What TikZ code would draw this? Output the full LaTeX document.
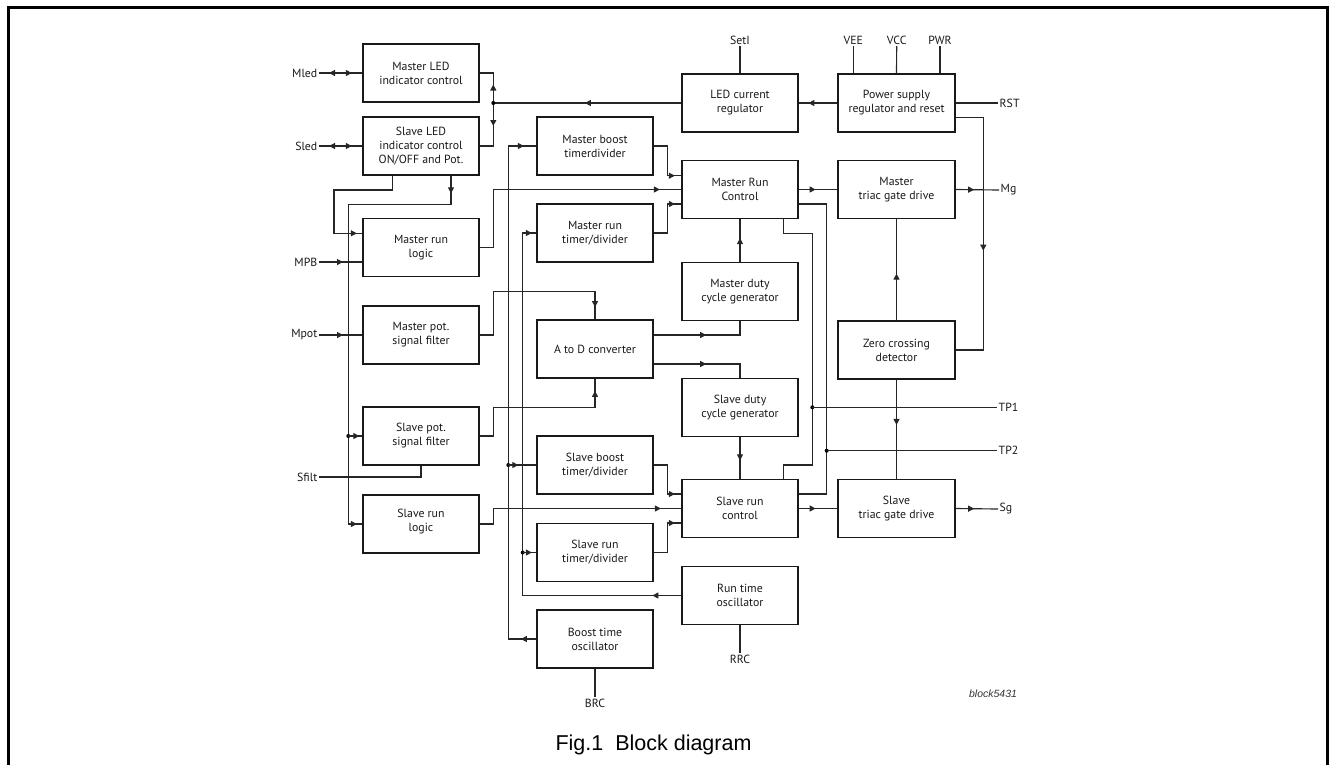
\documentclass[tikz,border=0pt]{standalone}
\usepackage{fontspec}
\setmainfont{PT Sans}
\newfontfamily\capfont{Liberation Sans}
\usetikzlibrary{arrows.meta,decorations.markings,calc}
\begin{document}
\begin{tikzpicture}[x=1pt,y=-1pt,
  blk/.style={draw=black!90, line width=1.8pt, minimum width=116.5pt, minimum height=58pt,
    inner sep=0pt, align=center, font=\fontsize{11.8}{14}\selectfont, text=black!90},
  lbl/.style={font=\fontsize{11.8}{13}\selectfont, inner sep=1.5pt, text=black!90},
  ln/.style={line width=1.15pt, draw=black!85},
  tip/.style={postaction={decorate,decoration={markings,mark=at position #1 with {\arrow{Triangle[length=6pt,width=6pt]}}}}},
  rtip/.style={postaction={decorate,decoration={markings,mark=at position #1 with {\arrowreversed{Triangle[length=6pt,width=6pt]}}}}},
  dot/.style={fill=black, circle, inner sep=0pt, minimum size=4pt}]
\useasboundingbox (0,0) rectangle (1329,764);
% frame
\draw[line width=3pt] (8.3,770) -- (8.3,7.3) -- (1327.8,7.3) -- (1327.8,770);

% blocks
\node[blk] (mled) at (421,73) {Master LED\\indicator control};
\node[blk] (sled) at (421,146) {Slave LED\\indicator control\\ON/OFF and Pot.};
\node[blk] (mrl) at (421,247.5) {Master run\\logic};
\node[blk] (mpf) at (421,335) {Master pot.\\signal filter};
\node[blk] (spf) at (421,436) {Slave pot.\\signal filter};
\node[blk] (srl) at (421,524) {Slave run\\logic\\[-7pt]\mbox{}};
\node[blk] (mbt) at (595,146) {Master boost\\timerdivider};
\node[blk] (mrt) at (595,233) {Master run\\timer/divider};
\node[blk] (adc) at (595,349) {A to D converter};
\node[blk] (sbt) at (595,465) {Slave boost\\timer/divider};
\node[blk] (srt) at (595,552.5) {Slave run\\timer/divider};
\node[blk] (bto) at (595,639) {Boost time\\oscillator};
\node[blk] (lcr) at (740,103) {LED current\\regulator};
\node[blk] (mrc) at (740,189.5) {Master Run\\Control};
\node[blk] (mdc) at (740,291.5) {Master duty\\cycle generator};
\node[blk] (sdc) at (740,407.5) {Slave duty\\cycle generator};
\node[blk] (src) at (740,508.5) {Slave run\\control};
\node[blk] (rto) at (740,595.5) {Run time\\oscillator};
\node[blk] (psr) at (896.5,103) {Power supply\\regulator and reset};
\node[blk] (mtg) at (896.5,189.5) {Master\\triac gate drive};
\node[blk] (zcd) at (896.5,350) {Zero crossing\\detector};
\node[blk] (stg) at (896.5,508.5) {Slave\\triac gate drive};

% pin labels
\node[lbl, anchor=east] (Lmled) at (319,73) {Mled};
\node[lbl, anchor=east] (Lsled) at (319,146) {Sled};
\node[lbl, anchor=east] (Lmpb) at (319,262) {MPB};
\node[lbl, anchor=east] (Lmpot) at (319,335) {Mpot};
\node[lbl, anchor=east] (Lsfilt) at (319,477) {Sfilt};
\node[lbl, anchor=south] (Lsetl) at (740,46) {SetI};
\node[lbl, anchor=south] (Lvee) at (853.3,46) {VEE};
\node[lbl, anchor=south] (Lvcc) at (896.7,46) {VCC};
\node[lbl, anchor=south] (Lpwr) at (940,46) {PWR};
\node[lbl, anchor=west] (Lrst) at (998,103) {RST};
\node[lbl, anchor=west] (Lmg) at (999,190) {Mg};
\node[lbl, anchor=west] (Ltp1) at (997,407.3) {TP1};
\node[lbl, anchor=west] (Ltp2) at (997,450.7) {TP2};
\node[lbl, anchor=west] (Lsg) at (998,509) {Sg};
\node[lbl, anchor=north] (Lrrc) at (740,653) {RRC};
\node[lbl, anchor=north] (Lbrc) at (595,697) {BRC};

% LED section
\draw[ln, rtip=10pt, tip=-10pt] (Lmled.east) -- (mled.west);
\draw[ln, rtip=10pt, tip=-10pt] (Lsled.east) -- (sled.west);
\coordinate (jled) at (493.3,103);
\draw[ln, tip=96pt] (lcr.west) -- (jled);
\draw[ln, tip=18.5pt] (jled) -- (jled |- mled.east) -- (mled.east);
\draw[ln, tip=23pt] (jled) -- (jled |- sled.east) -- (sled.east);
\node[dot] (djled) at (jled) {};

% power / top
\draw[ln, tip=29pt] (psr.west) -- (lcr.east);
\draw[ln] (Lsetl.south) -- (lcr.north);
\draw[ln] (Lvee.south) -- (Lvee.south |- psr.north);
\draw[ln] (Lvcc.south) -- (psr.north);
\draw[ln] (Lpwr.south) -- (Lpwr.south |- psr.north);
\draw[ln] (psr.east) -- (Lrst.west);
\draw[ln, tip=161pt] (psr.east |- 0,117.3) -- (983.3,117.3) |- (zcd.east);
\draw[ln, tip=46.5pt] (zcd.north) -- (mtg.south);
\draw[ln, tip=45pt] (zcd.south) -- (stg.north);
\draw[ln, tip=16.5pt] (mrc.east) -- (mtg.west);
\draw[ln, tip=18.5pt] (mtg.east) -- (Lmg.west);
\draw[ln, tip=16.5pt] (src.east) -- (stg.west);
\draw[ln, tip=18.5pt] (stg.east) -- (Lsg.west);

% test points
\draw[ln] (mrc.south -| 783.3,0) -- (783.3,233.3) -- (812.3,233.3) -- (812.3,465) -- (783.3,465) -- (src.north -| 783.3,0);
\coordinate (tp1j) at (812.3,407.3);
\node[dot] (dtp1) at (tp1j) {};
\draw[ln] (tp1j) -- (Ltp1.west);
\draw[ln] (mrc.east |- 0,204) -- (826.7,204) -- (826.7,494) -- (src.east |- 0,494);
\coordinate (tp2j) at (826.7,450.7);
\node[dot] (dtp2) at (tp2j) {};
\draw[ln] (tp2j) -- (Ltp2.west);

% duty cycle / ADC
\draw[ln, tip=23.5pt] (mdc.north) -- (mrc.south);
\draw[ln, tip=52pt] (adc.east |- 0,335) -| (mdc.south);
\draw[ln, tip=52pt] (adc.east |- 0,364) -| (sdc.north);
\draw[ln, tip=23pt] (sdc.south) -- (src.north);

% timers into run controls
\draw[ln, tip=-6pt] (mbt.east) -- (667.7,146) |- (mrc.west |- 0,175.7);
\draw[ln, tip=-6pt] (mrt.east) -- (667.7,233) |- (mrc.west |- 0,204);
\draw[ln, tip=-21pt] (mrl.east) -- (493.3,247.5) |- (mrc.west);
\draw[ln, tip=-6pt] (sbt.east) -- (667.7,465) |- (src.west |- 0,494);
\draw[ln, tip=-6pt] (srt.east) -- (667.7,552.5) |- (src.west |- 0,523);
\draw[ln, tip=-20pt] (srl.east) -- (493.3,524) |- (src.west);

% oscillators
\draw[ln, tip=15pt, tip=-12pt] (bto.west) -| (508.3,146) -- (mbt.west);
\coordinate (jsb) at (508.3,465);
\node[dot] (djsb) at (jsb) {};
\draw[ln, tip=-17.5pt] (jsb) -- (sbt.west);
\draw[ln, tip=28.5pt, tip=-4pt] (rto.west) -| (522.7,233) -- (mrt.west);
\coordinate (jsr) at (522.7,552.5);
\node[dot] (djsr) at (jsr) {};
\draw[ln, tip=-4pt] (jsr) -- (srt.west);
\draw[ln] (rto.south) -- (Lrrc.north);
\draw[ln] (bto.south) -- (Lbrc.north);

% slave LED outputs
\draw[ln, tip=-5pt] (sled.south -| 392.3,0) -- (392.3,190) -| (334,233.3) -- (mrl.west |- 0,233.3);
\draw[ln, tip=17.5pt, tip=-5pt] (sled.south -| 451,0) -- (451,204.3) -| (348.3,524) -- (srl.west);
\coordinate (jspf) at (348.3,436);
\node[dot] (djspf) at (jspf) {};
\draw[ln, tip=-2.5pt] (jspf) -- (spf.west);

% inputs
\draw[ln, tip=24pt] (Lmpb.east) -- (mrl.west |- 0,262);
\draw[ln, tip=24pt] (Lmpot.east) -- (mpf.west);
\draw[ln] (Lsfilt.east) -| (spf.south);
\draw[ln, tip=-12pt] (mpf.east) -- (493.3,335) |- (595,291.7) -- (adc.north);
\draw[ln, tip=-12pt] (spf.east) -- (493.3,436) |- (595,407.3) -- (adc.south);

% caption
\node[font=\capfont\itshape\fontsize{10.5}{12}\selectfont, anchor=base, text=black!80] (tag) at (993,697) {block5431};
\node[font=\capfont\fontsize{21.5}{24}\selectfont, anchor=base west] (cap) at (552,750) {Fig.1\ \ Block diagram};
\end{tikzpicture}
\end{document}
